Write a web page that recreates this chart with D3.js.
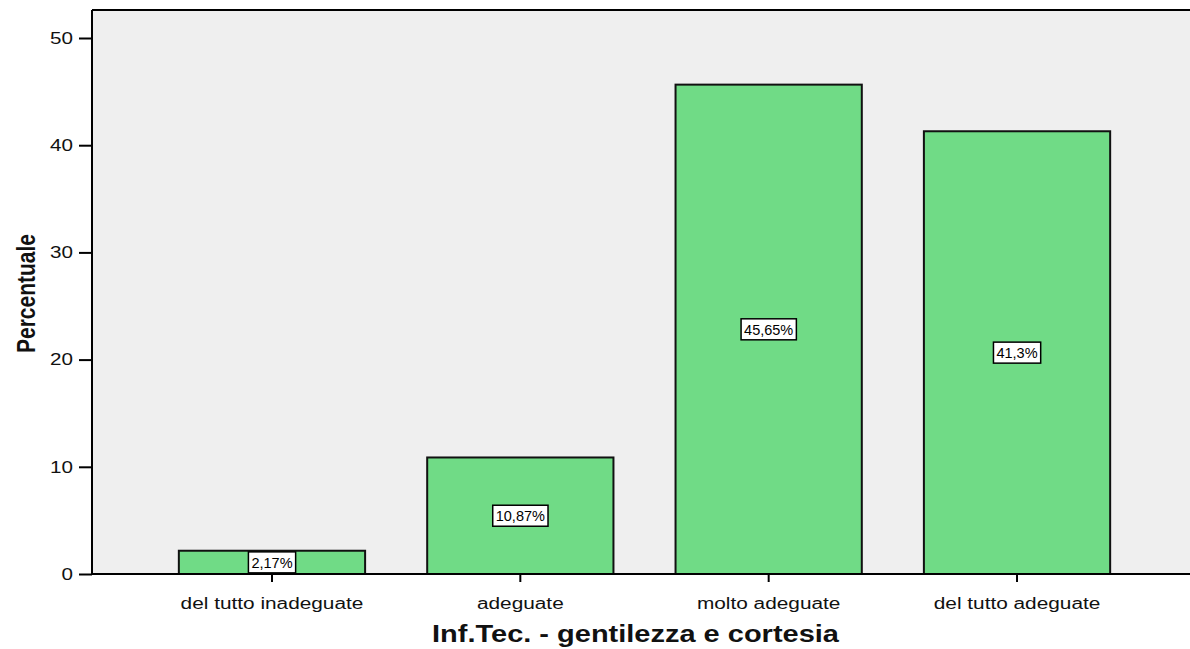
<!DOCTYPE html>
<html>
<head>
<meta charset="utf-8">
<script src="https://cdn.jsdelivr.net/npm/d3@7"></script>
<style>
  body { margin: 0; background: #fff; }
  svg { display: block; font-family: "Liberation Sans", Arial, sans-serif; }
</style>
</head>
<body>
<svg id="chart" width="1190" height="649"></svg>
<script>
const categories = ["del tutto inadeguate", "adeguate", "molto adeguate", "del tutto adeguate"];
const values = [2.17, 10.87, 45.65, 41.3];
const valueLabels = ["2,17%", "10,87%", "45,65%", "41,3%"];
const yTicks = [0, 10, 20, 30, 40, 50];

const width = 1190, height = 649;
const plot = { left: 92, top: 10, right: 1190, bottom: 574 };

const svg = d3.select("#chart");

// text in the original is widened horizontally
function stretch(sel, k) {
  sel.each(function() {
    const w = this.getComputedTextLength();
    d3.select(this).attr("textLength", w * k).attr("lengthAdjust", "spacingAndGlyphs");
  });
}

const y = d3.scaleLinear().domain([0, 50]).range([574, 38]);
const x = d3.scaleBand().domain(categories).range([147.8, 1141.2])
  .paddingInner(0.25).paddingOuter(0.125);

// plot background
svg.append("rect")
  .attr("x", plot.left).attr("y", plot.top)
  .attr("width", plot.right - plot.left).attr("height", plot.bottom - plot.top)
  .attr("fill", "#efefef");

// bars
svg.append("g").selectAll("rect")
  .data(values)
  .join("rect")
  .attr("x", (d, i) => x(categories[i]))
  .attr("y", d => y(d))
  .attr("width", x.bandwidth())
  .attr("height", d => y(0) - y(d))
  .attr("fill", "#70db86")
  .attr("stroke", "#111")
  .attr("stroke-width", 2);

// value labels
const lab = svg.append("g").selectAll("g")
  .data(values)
  .join("g")
  .attr("transform", (d, i) => `translate(${x(categories[i]) + x.bandwidth() / 2},${y(d / 2)})`);
lab.append("text")
  .attr("text-anchor", "middle")
  .attr("dy", "0.36em")
  .attr("font-size", 14.5)
  .attr("fill", "#000")
  .text((d, i) => valueLabels[i])
  .each(function() {
    const b = this.getBBox();
    d3.select(this.parentNode).insert("rect", "text")
      .attr("x", b.x - 3).attr("y", -10.5)
      .attr("width", b.width + 6).attr("height", 21)
      .attr("fill", "#fff")
      .attr("stroke", "#000")
      .attr("stroke-width", 1.5);
  });

// y axis
const yAxis = svg.append("g")
  .attr("transform", `translate(${plot.left},0)`)
  .call(d3.axisLeft(y).tickValues(yTicks).tickSize(13).tickPadding(6));
yAxis.select(".domain").remove();
yAxis.selectAll(".tick line").attr("stroke", "#000").attr("stroke-width", 2);
yAxis.selectAll(".tick text").attr("font-size", 16.5).attr("fill", "#111").call(stretch, 1.25);

// x axis
const xAxis = svg.append("g")
  .attr("transform", `translate(0,${plot.bottom})`)
  .call(d3.axisBottom(x).tickSize(8).tickPadding(15.5));
xAxis.select(".domain").remove();
xAxis.selectAll(".tick line").attr("stroke", "#000").attr("stroke-width", 2);
xAxis.selectAll(".tick text").attr("font-size", 16).attr("fill", "#111").call(stretch, 1.3);

// frame lines
svg.append("line").attr("x1", plot.left).attr("x2", plot.right).attr("y1", plot.top).attr("y2", plot.top)
  .attr("stroke", "#000").attr("stroke-width", 2);
svg.append("line").attr("x1", plot.left).attr("x2", plot.left).attr("y1", plot.top).attr("y2", plot.bottom)
  .attr("stroke", "#000").attr("stroke-width", 2);
svg.append("line").attr("x1", plot.left - 1).attr("x2", plot.right).attr("y1", plot.bottom).attr("y2", plot.bottom)
  .attr("stroke", "#000").attr("stroke-width", 2);

// axis titles
svg.append("text")
  .attr("x", 635.5).attr("y", 642)
  .attr("text-anchor", "middle")
  .attr("font-size", 23).attr("font-weight", "bold").attr("fill", "#111")
  .text("Inf.Tec. - gentilezza e cortesia")
  .call(stretch, 1.26);

svg.append("text")
  .attr("transform", "translate(35,293.5) scale(1.24,1) rotate(-90)")
  .attr("text-anchor", "middle")
  .attr("font-size", 21).attr("font-weight", "bold").attr("fill", "#111")
  .text("Percentuale");
</script>
</body>
</html>
